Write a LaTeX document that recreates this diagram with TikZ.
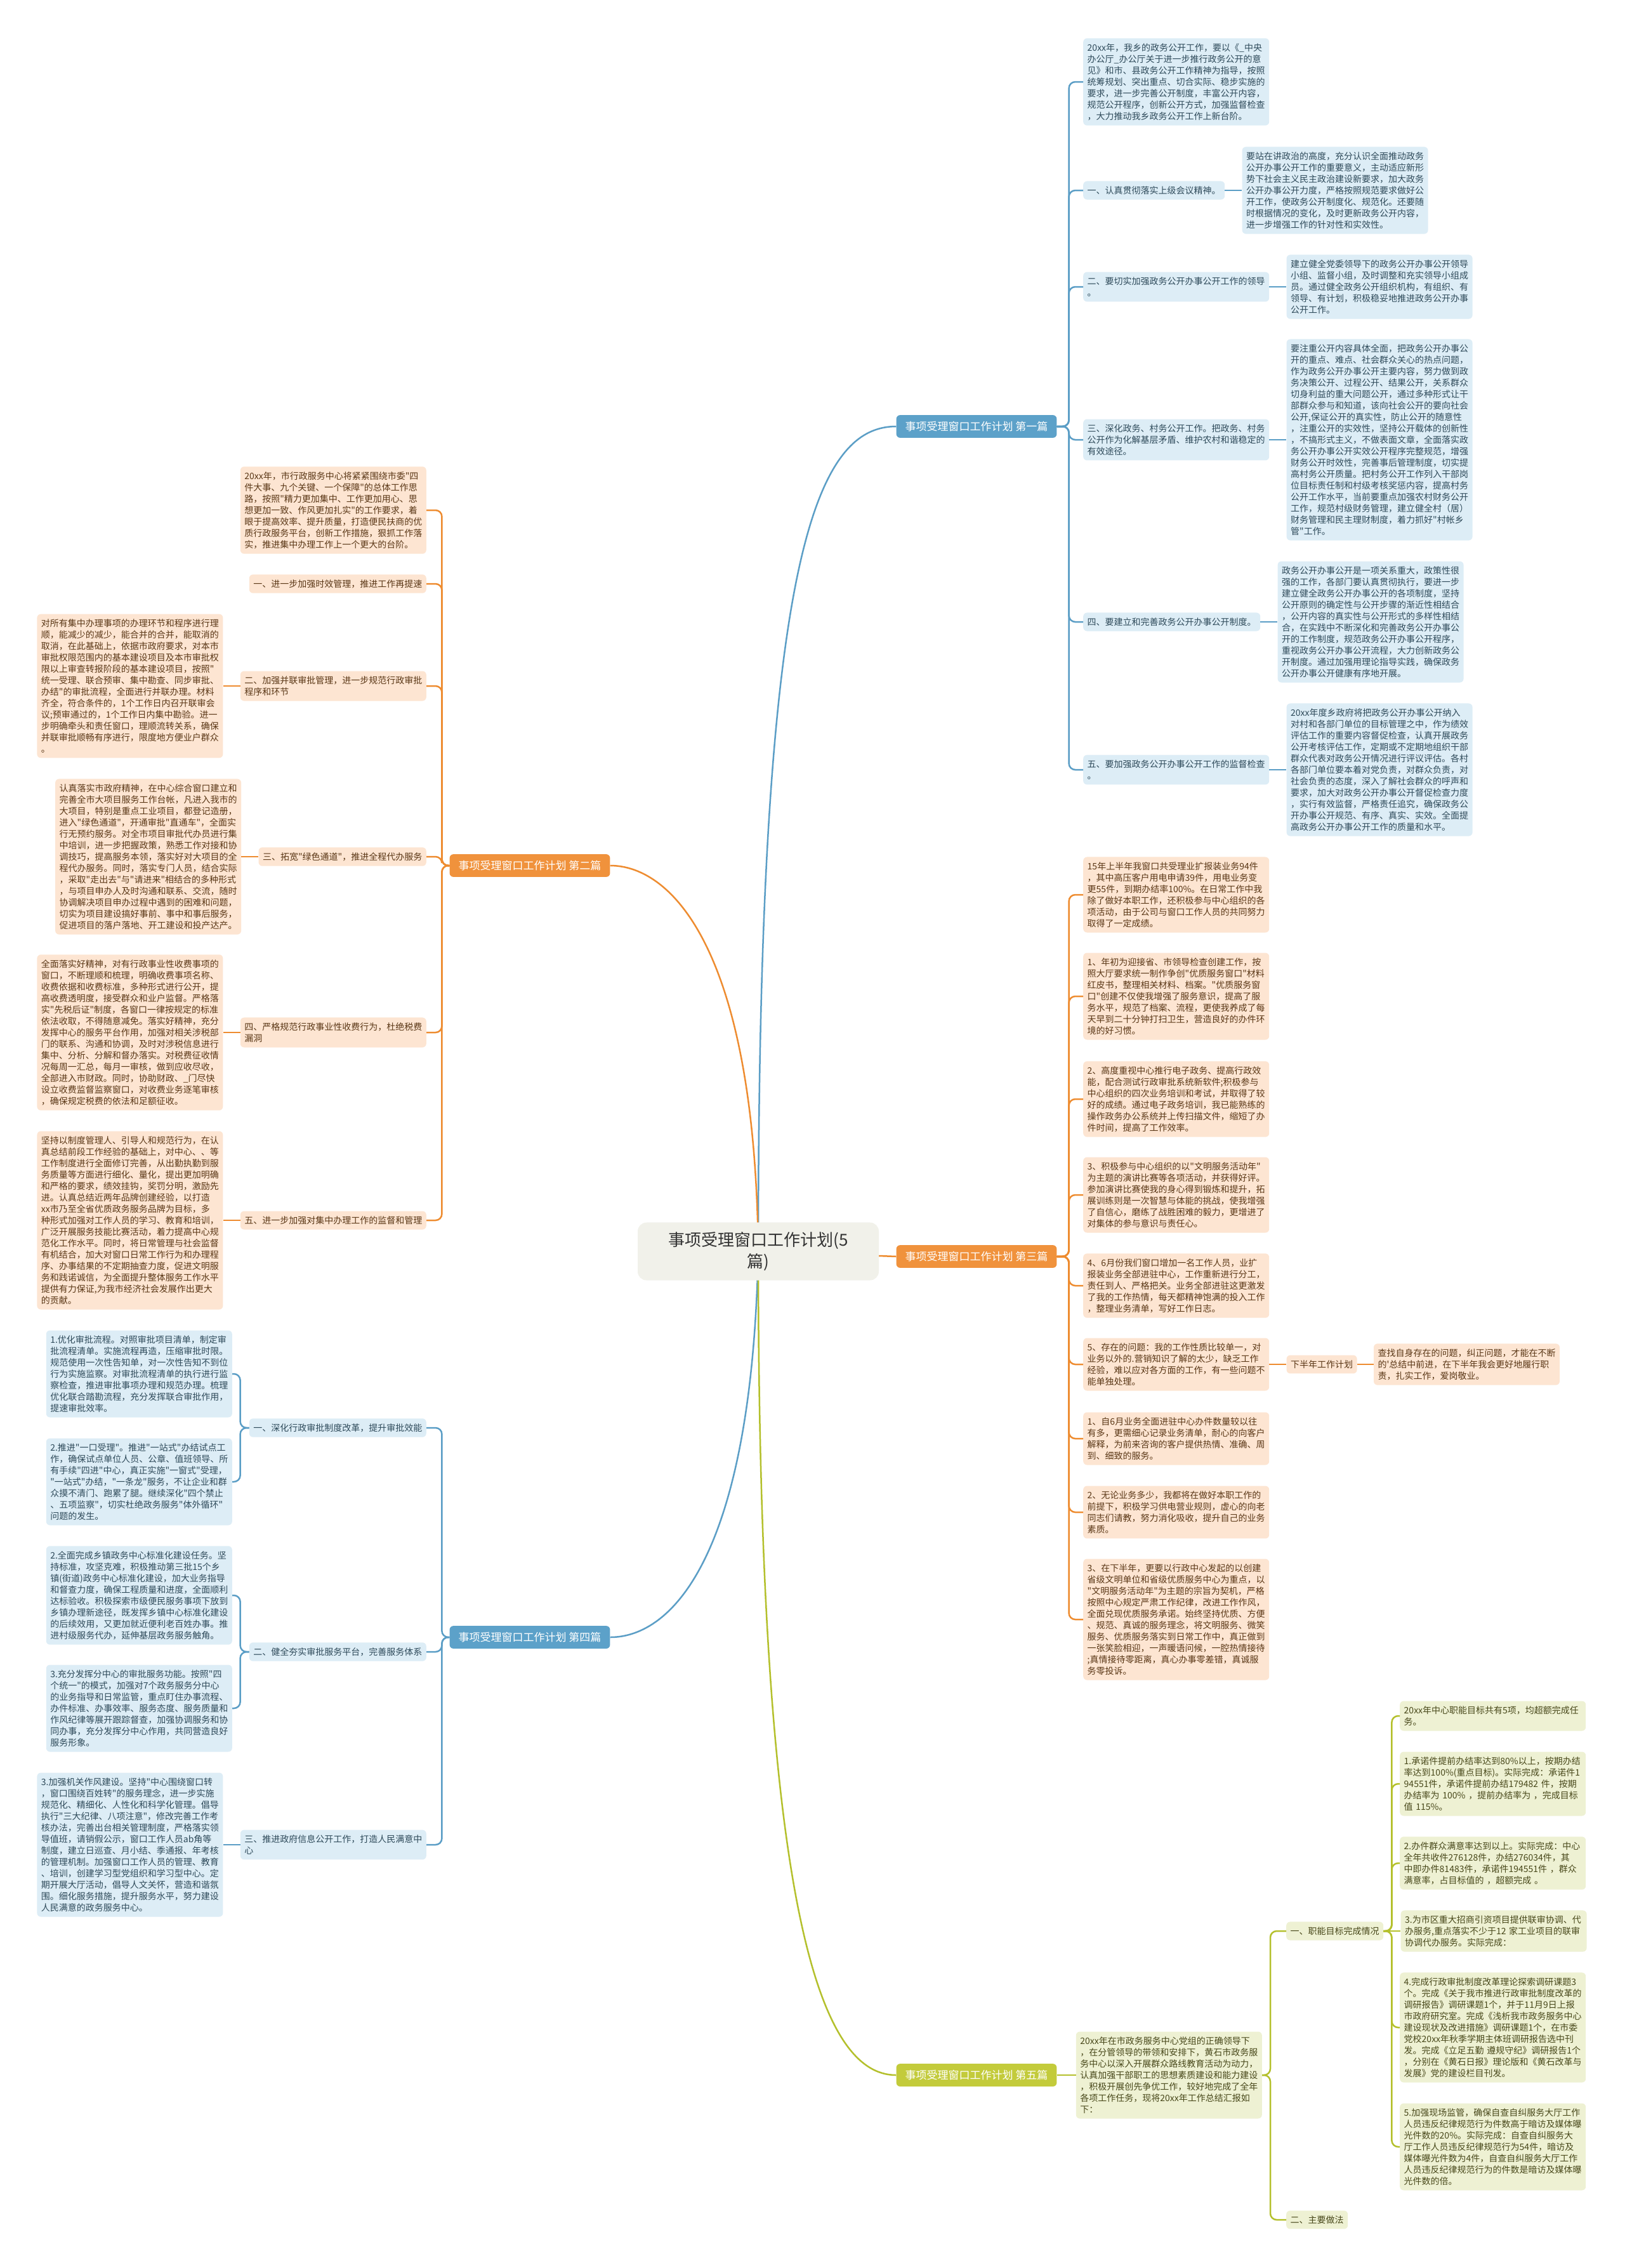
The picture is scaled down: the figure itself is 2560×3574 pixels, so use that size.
\documentclass[tikz,border=0pt]{standalone}
\usepackage{fontspec}
\setmainfont{Noto Sans CJK SC}[Ligatures=TeXOff]
\usetikzlibrary{positioning, backgrounds}

\definecolor{bluefill}{HTML}{DDEDF6}
\definecolor{blueline}{HTML}{5B9EC6}
\definecolor{bluetext}{HTML}{2E4A5A}
\definecolor{bluehead}{HTML}{5CA1C9}
\definecolor{orangefill}{HTML}{FDE5D2}
\definecolor{orangeline}{HTML}{EE8C30}
\definecolor{orangetext}{HTML}{5A3716}
\definecolor{orangehead}{HTML}{F0923C}
\definecolor{greenfill}{HTML}{EEF1D3}
\definecolor{greenline}{HTML}{B4C02C}
\definecolor{greentext}{HTML}{48481A}
\definecolor{greenhead}{HTML}{C3CB3B}
\definecolor{rootfill}{HTML}{F1F1EA}

\begin{document}
\begin{tikzpicture}[
    x=1pt, y=-1pt,
    every node/.style={rounded corners=6pt, inner xsep=6.5pt, inner ysep=8pt, font=\fontsize{14}{18}\selectfont},
    root/.style={fill=rootfill, text=black!80, align=center, font=\fontsize{26}{34}\selectfont, minimum width=380pt, inner ysep=15pt, rounded corners=14pt},
    head/.style={font=\fontsize{17}{20}\selectfont, inner xsep=14pt, inner ysep=10pt, text=white},
    bluehd/.style={head, fill=bluehead},
    orangehd/.style={head, fill=orangehead},
    greenhd/.style={head, fill=greenhead},
    bluebox/.style={fill=bluefill, text=bluetext, align=left},
    blueleaf/.style={bluebox, text width=280pt},
    orangebox/.style={fill=orangefill, text=orangetext, align=left},
    orangeleaf/.style={orangebox, text width=280pt},
    greenbox/.style={fill=greenfill, text=greentext, align=left},
    greenleaf/.style={greenbox, text width=280pt},
    bluelink/.style={draw=blueline, line width=2.5pt, rounded corners=10pt},
    orangelink/.style={draw=orangeline, line width=2.5pt, rounded corners=10pt},
    greenlink/.style={draw=greenline, line width=2.5pt, rounded corners=10pt}
    ]
    \path[use as bounding box] (0,0) rectangle (2560,3574);

    % root and the five branches
    \node (root) [root] at (1195,1972) {事项受理窗口工作计划(5\\篇)};
    \node (p1) [bluehd] at (1539,672) {事项受理窗口工作计划 第一篇};
    \node (p2) [orangehd] at (835,1364) {事项受理窗口工作计划 第二篇};
    \node (p3) [orangehd] at (1539,1980) {事项受理窗口工作计划 第三篇};
    \node (p4) [bluehd] at (835,2580) {事项受理窗口工作计划 第四篇};
    \node (p5) [greenhd] at (1539,3270) {事项受理窗口工作计划 第五篇};

    % first
    \node (a1) [blueleaf, anchor=west] at (1707,129) {20xx年，我乡的政务公开工作，要以《\_中央\\办公厅\_办公厅关于进一步推行政务公开的意\\见》和市、县政务公开工作精神为指导，按照\\统筹规划、突出重点、切合实际、稳步实施的\\要求，进一步完善公开制度，丰富公开内容，\\规范公开程序，创新公开方式，加强监督检查\\，大力推动我乡政务公开工作上新台阶。};
    \node (a2) [bluebox, anchor=west] at (1707,300) {一、认真贯彻落实上级会议精神。};
    \node (a2t) [blueleaf, right=27pt of a2] {要站在讲政治的高度，充分认识全面推动政务\\公开办事公开工作的重要意义，主动适应新形\\势下社会主义民主政治建设新要求，加大政务\\公开办事公开力度，严格按照规范要求做好公\\开工作，使政务公开制度化、规范化。还要随\\时根据情况的变化，及时更新政务公开内容，\\进一步增强工作的针对性和实效性。};
    \node (a3) [bluebox, anchor=west] at (1707,452) {二、要切实加强政务公开办事公开工作的领导\\。};
    \node (a3t) [blueleaf, right=27pt of a3] {建立健全党委领导下的政务公开办事公开领导\\小组、监督小组，及时调整和充实领导小组成\\员。通过健全政务公开组织机构，有组织、有\\领导、有计划，积极稳妥地推进政务公开办事\\公开工作。};
    \node (a4) [bluebox, anchor=west] at (1707,693) {三、深化政务、村务公开工作。把政务、村务\\公开作为化解基层矛盾、维护农村和谐稳定的\\有效途径。};
    \node (a4t) [blueleaf, right=27pt of a4] {要注重公开内容具体全面，把政务公开办事公\\开的重点、难点、社会群众关心的热点问题，\\作为政务公开办事公开主要内容，努力做到政\\务决策公开、过程公开、结果公开，关系群众\\切身利益的重大问题公开，通过多种形式让干\\部群众参与和知道，该向社会公开的要向社会\\公开,保证公开的真实性，防止公开的随意性\\，注重公开的实效性，坚持公开载体的创新性\\，不搞形式主义，不做表面文章，全面落实政\\务公开办事公开实效公开程序完整规范，增强\\财务公开时效性，完善事后管理制度，切实提\\高村务公开质量。把村务公开工作列入干部岗\\位目标责任制和村级考核奖惩内容，提高村务\\公开工作水平，当前要重点加强农村财务公开\\工作，规范村级财务管理，建立健全村（居）\\财务管理和民主理财制度，着力抓好"村帐乡\\管"工作。};
    \node (a5) [bluebox, anchor=west] at (1707,980) {四、要建立和完善政务公开办事公开制度。};
    \node (a5t) [blueleaf, right=27pt of a5] {政务公开办事公开是一项关系重大，政策性很\\强的工作，各部门要认真贯彻执行，要进一步\\建立健全政务公开办事公开的各项制度，坚持\\公开原则的确定性与公开步骤的渐近性相结合\\，公开内容的真实性与公开形式的多样性相结\\合，在实践中不断深化和完善政务公开办事公\\开的工作制度，规范政务公开办事公开程序，\\重视政务公开办事公开流程，大力创新政务公\\开制度。通过加强用理论指导实践，确保政务\\公开办事公开健康有序地开展。};
    \node (a6) [bluebox, anchor=west] at (1707,1213) {五、要加强政务公开办事公开工作的监督检查\\。};
    \node (a6t) [blueleaf, right=27pt of a6] {20xx年度乡政府将把政务公开办事公开纳入\\对村和各部门单位的目标管理之中，作为绩效\\评估工作的重要内容督促检查，认真开展政务\\公开考核评估工作，定期或不定期地组织干部\\群众代表对政务公开情况进行评议评估。各村\\各部门单位要本着对党负责，对群众负责，对\\社会负责的态度，深入了解社会群众的呼声和\\要求，加大对政务公开办事公开督促检查力度\\，实行有效监督，严格责任追究，确保政务公\\开办事公开规范、有序、真实、实效。全面提\\高政务公开办事公开工作的质量和水平。};

    % second
    \node (b0) [orangeleaf, anchor=east] at (672,804) {20xx年，市行政服务中心将紧紧围绕市委"四\\件大事、九个关键、一个保障"的总体工作思\\路，按照"精力更加集中、工作更加用心、思\\想更加一致、作风更加扎实"的工作要求，着\\眼于提高效率、提升质量，打造便民扶商的优\\质行政服务平台，创新工作措施，狠抓工作落\\实，推进集中办理工作上一个更大的台阶。};
    \node (b1) [orangebox, anchor=east] at (672,920) {一、进一步加强时效管理，推进工作再提速};
    \node (b2) [orangebox, anchor=east] at (672,1081) {二、加强并联审批管理，进一步规范行政审批\\程序和环节};
    \node (b2t) [orangeleaf, left=27pt of b2] {对所有集中办理事项的办理环节和程序进行理\\顺，能减少的减少，能合并的合并，能取消的\\取消，在此基础上，依据市政府要求，对本市\\审批权限范围内的基本建设项目及本市审批权\\限以上审查转报阶段的基本建设项目，按照"\\统一受理、联合预审、集中勘查、同步审批、\\办结"的审批流程，全面进行并联办理。材料\\齐全，符合条件的，1个工作日内召开联审会\\议;预审通过的，1个工作日内集中勘验。进一\\步明确牵头和责任窗口，理顺流转关系，确保\\并联审批顺畅有序进行，限度地方便业户群众\\。};
    \node (b3) [orangebox, anchor=east] at (672,1350) {三、拓宽"绿色通道"，推进全程代办服务};
    \node (b3t) [orangeleaf, left=27pt of b3] {认真落实市政府精神，在中心综合窗口建立和\\完善全市大项目服务工作台帐，凡进入我市的\\大项目，特别是重点工业项目，都登记造册，\\进入"绿色通道"，开通审批"直通车"，全面实\\行无预约服务。对全市项目审批代办员进行集\\中培训，进一步把握政策，熟悉工作对接和协\\调技巧，提高服务本领，落实好对大项目的全\\程代办服务。同时，落实专门人员，结合实际\\，采取"走出去"与"请进来"相结合的多种形式\\，与项目申办人及时沟通和联系、交流，随时\\协调解决项目申办过程中遇到的困难和问题，\\切实为项目建设搞好事前、事中和事后服务，\\促进项目的落户落地、开工建设和投产达产。};
    \node (b4) [orangebox, anchor=east] at (672,1627) {四、严格规范行政事业性收费行为，杜绝税费\\漏洞};
    \node (b4t) [orangeleaf, left=27pt of b4] {全面落实好精神，对有行政事业性收费事项的\\窗口，不断理顺和梳理，明确收费事项名称、\\收费依据和收费标准，多种形式进行公开，提\\高收费透明度，接受群众和业户监督。严格落\\实"先税后证"制度，各窗口一律按规定的标准\\依法收取，不得随意减免。落实好精神，充分\\发挥中心的服务平台作用，加强对相关涉税部\\门的联系、沟通和协调，及时对涉税信息进行\\集中、分析、分解和督办落实。对税费征收情\\况每周一汇总，每月一审核，做到应收尽收，\\全部进入市财政。同时，协助财政、\_门尽快\\设立收费监督监察窗口，对收费业务逐笔审核\\，确保规定税费的依法和足额征收。};
    \node (b5) [orangebox, anchor=east] at (672,1923) {五、进一步加强对集中办理工作的监督和管理};
    \node (b5t) [orangeleaf, left=27pt of b5] {坚持以制度管理人、引导人和规范行为，在认\\真总结前段工作经验的基础上，对中心、、等\\工作制度进行全面修订完善，从出勤执勤到服\\务质量等方面进行细化、量化，提出更加明确\\和严格的要求，绩效挂钩，奖罚分明，激励先\\进。认真总结近两年品牌创建经验，以打造\\xx市乃至全省优质政务服务品牌为目标，多\\种形式加强对工作人员的学习、教育和培训，\\广泛开展服务技能比赛活动，着力提高中心规\\范化工作水平。同时，将日常管理与社会监督\\有机结合，加大对窗口日常工作行为和办理程\\序、办事结果的不定期抽查力度，促进文明服\\务和践诺诚信，为全面提升整体服务工作水平\\提供有力保证,为我市经济社会发展作出更大\\的贡献。};

    % third
    \node (c0) [orangeleaf, anchor=west] at (1707,1410) {15年上半年我窗口共受理业扩报装业务94件\\，其中高压客户用电申请39件，用电业务变\\更55件，到期办结率100\%。在日常工作中我\\除了做好本职工作，还积极参与中心组织的各\\项活动，由于公司与窗口工作人员的共同努力\\取得了一定成绩。};
    \node (c1) [orangeleaf, anchor=west] at (1707,1570) {1、年初为迎接省、市领导检查创建工作，按\\照大厅要求统一制作争创"优质服务窗口"材料\\红皮书，整理相关材料、档案。"优质服务窗\\口"创建不仅使我增强了服务意识，提高了服\\务水平，规范了档案、流程，更使我养成了每\\天早到二十分钟打扫卫生，营造良好的办件环\\境的好习惯。};
    \node (c2) [orangeleaf, anchor=west] at (1707,1732) {2、高度重视中心推行电子政务、提高行政效\\能，配合测试行政审批系统新软件;积极参与\\中心组织的四次业务培训和考试，并取得了较\\好的成绩。通过电子政务培训，我已能熟练的\\操作政务办公系统并上传扫描文件，缩短了办\\件时间，提高了工作效率。};
    \node (c3) [orangeleaf, anchor=west] at (1707,1883) {3、积极参与中心组织的以"文明服务活动年"\\为主题的演讲比赛等各项活动，并获得好评。\\参加演讲比赛使我的身心得到锻炼和提升，拓\\展训练则是一次智慧与体能的挑战，使我增强\\了自信心，磨练了战胜困难的毅力，更增进了\\对集体的参与意识与责任心。};
    \node (c4) [orangeleaf, anchor=west] at (1707,2026) {4、6月份我们窗口增加一名工作人员，业扩\\报装业务全部进驻中心，工作重新进行分工，\\责任到人、严格把关。业务全部进驻这更激发\\了我的工作热情，每天都精神饱满的投入工作\\，整理业务清单，写好工作日志。};
    \node (c5) [orangeleaf, anchor=west] at (1707,2150) {5、存在的问题：我的工作性质比较单一，对\\业务以外的.营销知识了解的太少，缺乏工作\\经验，难以应对各方面的工作，有一些问题不\\能单独处理。};
    \node (c5a) [orangebox, right=27pt of c5] {下半年工作计划};
    \node (c5b) [orangeleaf, right=26pt of c5a] {查找自身存在的问题，纠正问题，才能在不断\\的'总结中前进，在下半年我会更好地履行职\\责，扎实工作，爱岗敬业。};
    \node (c6) [orangeleaf, anchor=west] at (1707,2267) {1、自6月业务全面进驻中心办件数量较以往\\有多，更需细心记录业务清单，耐心的向客户\\解释，为前来咨询的客户提供热情、准确、周\\到、细致的服务。};
    \node (c7) [orangeleaf, anchor=west] at (1707,2383) {2、无论业务多少，我都将在做好本职工作的\\前提下，积极学习供电营业规则，虚心的向老\\同志们请教，努力消化吸收，提升自己的业务\\素质。};
    \node (c8) [orangeleaf, anchor=west] at (1707,2552) {3、在下半年，更要以行政中心发起的以创建\\省级文明单位和省级优质服务中心为重点，以\\"文明服务活动年"为主题的宗旨为契机，严格\\按照中心规定严肃工作纪律，改进工作作风，\\全面兑现优质服务承诺。始终坚持优质、方便\\、规范、真诚的服务理念，将文明服务、微笑\\服务、优质服务落实到日常工作中，真正做到\\一张笑脸相迎，一声暖语问候，一腔热情接待\\;真情接待零距离，真心办事零差错，真诚服\\务零投诉。};

    % fourth
    \node (d1) [bluebox, anchor=east] at (672,2250) {一、深化行政审批制度改革，提升审批效能};
    \node (d1a) [blueleaf, anchor=east] at (366,2165) {1.优化审批流程。对照审批项目清单，制定审\\批流程清单。实施流程再造，压缩审批时限。\\规范使用一次性告知单，对一次性告知不到位\\行为实施监察。对审批流程清单的执行进行监\\察检查，推进审批事项办理和规范办理。梳理\\优化联合踏勘流程，充分发挥联合审批作用，\\提速审批效率。};
    \node (d1b) [blueleaf, anchor=east] at (366,2335) {2.推进"一口受理"。推进"一站式"办结试点工\\作，确保试点单位人员、公章、值班领导、所\\有手续"四进"中心，真正实施"一窗式"受理，\\"一站式"办结，"一条龙"服务，不让企业和群\\众摸不清门、跑累了腿。继续深化"四个禁止\\、五项监察"，切实杜绝政务服务"体外循环"\\问题的发生。};
    \node (d2) [bluebox, anchor=east] at (672,2603) {二、健全夯实审批服务平台，完善服务体系};
    \node (d2a) [blueleaf, anchor=east] at (366,2514) {2.全面完成乡镇政务中心标准化建设任务。坚\\持标准，攻坚克难，积极推动第三批15个乡\\镇(街道)政务中心标准化建设，加大业务指导\\和督查力度，确保工程质量和进度，全面顺利\\达标验收。积极探索市级便民服务事项下放到\\乡镇办理新途径，既发挥乡镇中心标准化建设\\的后续效用，又更加就近便利老百姓办事。推\\进村级服务代办，延伸基层政务服务触角。};
    \node (d2b) [blueleaf, anchor=east] at (366,2692) {3.充分发挥分中心的审批服务功能。按照"四\\个统一"的模式，加强对7个政务服务分中心\\的业务指导和日常监管，重点盯住办事流程、\\办件标准、办事效率、服务态度、服务质量和\\作风纪律等展开跟踪督查，加强协调服务和协\\同办事，充分发挥分中心作用，共同营造良好\\服务形象。};
    \node (d3) [bluebox, anchor=east] at (672,2907) {三、推进政府信息公开工作，打造人民满意中\\心};
    \node (d3a) [blueleaf, left=27pt of d3] {3.加强机关作风建设。坚持"中心围绕窗口转\\，窗口围绕百姓转"的服务理念，进一步实施\\规范化、精细化、人性化和科学化管理。倡导\\执行"三大纪律、八项注意"，修改完善工作考\\核办法，完善出台相关管理制度，严格落实领\\导值班，请销假公示，窗口工作人员ab角等\\制度，建立日巡查、月小结、季通报、年考核\\的管理机制。加强窗口工作人员的管理、教育\\、培训，创建学习型党组织和学习型中心。定\\期开展大厅活动，倡导人文关怀，营造和谐氛\\围。细化服务措施，提升服务水平，努力建设\\人民满意的政务服务中心。};

    % fifth
    \node (e0) [greenleaf, right=30pt of p5] {20xx年在市政务服务中心党组的正确领导下\\，在分管领导的带领和安排下，黄石市政务服\\务中心以深入开展群众路线教育活动为动力，\\认真加强干部职工的思想素质建设和能力建设\\，积极开展创先争优工作，较好地完成了全年\\各项工作任务，现将20xx年工作总结汇报如\\下：};
    \node (e1) [greenbox, anchor=west] at (2027,3043) {一、职能目标完成情况};
    \node (e2) [greenbox, anchor=west] at (2027,3498) {二、主要做法};
    \node (e1a) [greenleaf, anchor=west] at (2206,2704) {20xx年中心职能目标共有5项，均超额完成任\\务。};
    \node (e1b) [greenleaf, anchor=west] at (2206,2811) {1.承诺件提前办结率达到80\%以上，按期办结\\率达到100\%(重点目标)。实际完成：承诺件1\\94551件，承诺件提前办结179482 件，按期\\办结率为 100\% ，提前办结率为 ，完成目标\\值 115\%。};
    \node (e1c) [greenleaf, anchor=west] at (2206,2936) {2.办件群众满意率达到以上。实际完成：中心\\全年共收件276128件，办结276034件，其\\中即办件81483件，承诺件194551件 ，群众\\满意率，占目标值的 ，超额完成 。};
    \node (e1d) [greenleaf, right=27pt of e1] {3.为市区重大招商引资项目提供联审协调、代\\办服务,重点落实不少于12 家工业项目的联审\\协调代办服务。实际完成：};
    \node (e1e) [greenleaf, anchor=west] at (2206,3195) {4.完成行政审批制度改革理论探索调研课题3\\个。完成《关于我市推进行政审批制度改革的\\调研报告》调研课题1个，并于11月9日上报\\市政府研究室。完成《浅析我市政务服务中心\\建设现状及改进措施》调研课题1个，在市委\\党校20xx年秋季学期主体班调研报告选中刊\\发。完成《立足五勤 遵规守纪》调研报告1个\\，分别在《黄石日报》理论版和《黄石改革与\\发展》党的建设栏目刊发。};
    \node (e1f) [greenleaf, anchor=west] at (2206,3383) {5.加强现场监管，确保自查自纠服务大厅工作\\人员违反纪律规范行为件数高于暗访及媒体曝\\光件数的20\%。实际完成：自查自纠服务大\\厅工作人员违反纪律规范行为54件，暗访及\\媒体曝光件数为4件，自查自纠服务大厅工作\\人员违反纪律规范行为的件数是暗访及媒体曝\\光件数的倍。};

    % root links
    \begin{pgfonlayer}{background}
    \fill[white] (0,0) rectangle (2560,3574);
    \draw[bluelink] (root.center) .. controls (1195,900) and (1280,672) .. (p1.west);
    \draw[orangelink] (root.center) .. controls (1190,1500) and (1060,1364) .. (p2.east);
    \draw[orangelink] (root.center) -- (p3.west);
    \draw[bluelink] (root.center) .. controls (1185,2450) and (1060,2580) .. (p4.east);
    \draw[greenlink] (root.center) .. controls (1195,3000) and (1290,3270) .. (p5.west);
    \end{pgfonlayer}

    \draw[bluelink] (p1.east) -- ++(19,0) |- (a1.west);
    \draw[bluelink] (p1.east) -- ++(19,0) |- (a2.west);
    \draw[bluelink] (p1.east) -- ++(19,0) |- (a3.west);
    \draw[bluelink] (p1.east) -- ++(19,0) |- (a4.west);
    \draw[bluelink] (p1.east) -- ++(19,0) |- (a5.west);
    \draw[bluelink] (p1.east) -- ++(19,0) |- (a6.west);
    \draw[bluelink] (a2) -- (a2t);
    \draw[bluelink] (a3) -- (a3t);
    \draw[bluelink] (a4) -- (a4t);
    \draw[bluelink] (a5) -- (a5t);
    \draw[bluelink] (a6) -- (a6t);

    \draw[orangelink] (p2.west) -- ++(-12,0) |- (b0.east);
    \draw[orangelink] (p2.west) -- ++(-12,0) |- (b1.east);
    \draw[orangelink] (p2.west) -- ++(-12,0) |- (b2.east);
    \draw[orangelink] (p2.west) -- ++(-12,0) |- (b3.east);
    \draw[orangelink] (p2.west) -- ++(-12,0) |- (b4.east);
    \draw[orangelink] (p2.west) -- ++(-12,0) |- (b5.east);
    \draw[orangelink] (b2) -- (b2t);
    \draw[orangelink] (b3) -- (b3t);
    \draw[orangelink] (b4) -- (b4t);
    \draw[orangelink] (b5) -- (b5t);

    \draw[orangelink] (p3.east) -- ++(19,0) |- (c0.west);
    \draw[orangelink] (p3.east) -- ++(19,0) |- (c1.west);
    \draw[orangelink] (p3.east) -- ++(19,0) |- (c2.west);
    \draw[orangelink] (p3.east) -- ++(19,0) |- (c3.west);
    \draw[orangelink] (p3.east) -- ++(19,0) |- (c4.west);
    \draw[orangelink] (p3.east) -- ++(19,0) |- (c5.west);
    \draw[orangelink] (p3.east) -- ++(19,0) |- (c6.west);
    \draw[orangelink] (p3.east) -- ++(19,0) |- (c7.west);
    \draw[orangelink] (p3.east) -- ++(19,0) |- (c8.west);
    \draw[orangelink] (c5) -- (c5a);
    \draw[orangelink] (c5a) -- (c5b);

    \draw[bluelink] (p4.west) -- ++(-12,0) |- (d1.east);
    \draw[bluelink] (p4.west) -- ++(-12,0) |- (d2.east);
    \draw[bluelink] (p4.west) -- ++(-12,0) |- (d3.east);
    \draw[bluelink] (d1.west) -- ++(-14,0) |- (d1a.east);
    \draw[bluelink] (d1.west) -- ++(-14,0) |- (d1b.east);
    \draw[bluelink] (d2.west) -- ++(-14,0) |- (d2a.east);
    \draw[bluelink] (d2.west) -- ++(-14,0) |- (d2b.east);
    \draw[bluelink] (d3) -- (d3a);

    \draw[greenlink] (p5) -- (e0);
    \draw[greenlink] (e0.east) -- ++(13,0) |- (e1.west);
    \draw[greenlink] (e0.east) -- ++(13,0) |- (e2.west);
    \draw[greenlink] (e1.east) -- ++(13,0) |- (e1a.west);
    \draw[greenlink] (e1.east) -- ++(13,0) |- (e1b.west);
    \draw[greenlink] (e1.east) -- ++(13,0) |- (e1c.west);
    \draw[greenlink] (e1) -- (e1d);
    \draw[greenlink] (e1.east) -- ++(13,0) |- (e1e.west);
    \draw[greenlink] (e1.east) -- ++(13,0) |- (e1f.west);
\end{tikzpicture}
\end{document}
